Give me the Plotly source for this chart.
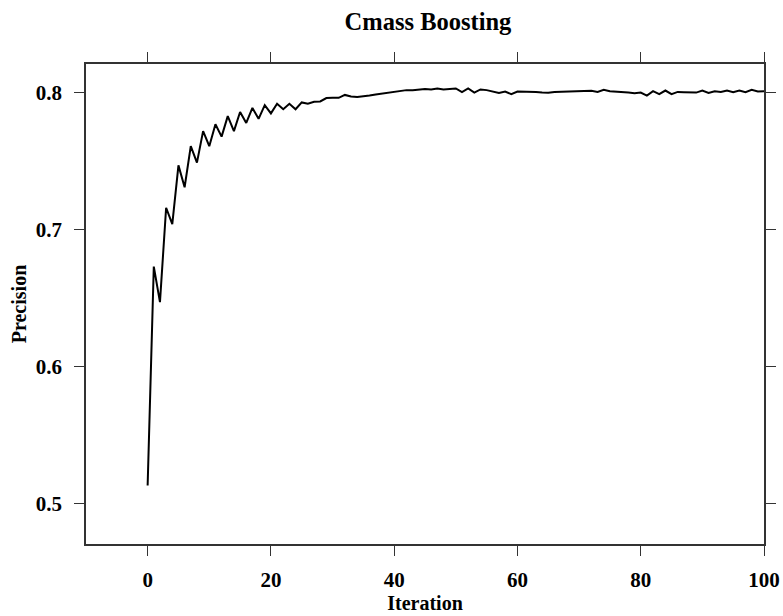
import plotly.graph_objects as go

iterations = list(range(0, 101))
precision = [
    0.513, 0.673, 0.647, 0.716, 0.704, 0.747, 0.731, 0.761, 0.749, 0.772,
    0.761, 0.777, 0.768, 0.783, 0.772, 0.786, 0.778, 0.789, 0.781, 0.791,
    0.785, 0.792, 0.788, 0.792, 0.788, 0.793, 0.792, 0.7935, 0.7937, 0.7962,
    0.7964, 0.7964, 0.7985, 0.7973, 0.7969, 0.7973, 0.798, 0.7988, 0.7995, 0.8002,
    0.8007, 0.8012, 0.802, 0.802, 0.8022, 0.8029, 0.8025, 0.8032, 0.8025, 0.8029,
    0.8032, 0.8005, 0.8032, 0.8002, 0.8025, 0.802, 0.8012, 0.8, 0.801, 0.799,
    0.801, 0.801, 0.801, 0.8007, 0.8002, 0.8, 0.8007, 0.8008, 0.8007, 0.801,
    0.801, 0.8012, 0.8015, 0.8007, 0.8022, 0.8012, 0.801, 0.8005, 0.8002, 0.7998,
    0.8002, 0.798, 0.8012, 0.799, 0.8017, 0.799, 0.8007, 0.8005, 0.8005, 0.8002,
    0.8017, 0.8, 0.8012, 0.8007, 0.8017, 0.8005, 0.8017, 0.8005, 0.8022, 0.801,
    0.8012,
]
x_ticks = [0, 20, 40, 60, 80, 100]
y_ticks = [0.5, 0.6, 0.7, 0.8]

FONT = "Liberation Serif"

fig = go.Figure()
fig.add_trace(go.Scatter(
    x=iterations, y=precision, mode="lines",
    line=dict(color="black", width=2),
    showlegend=False, hoverinfo="skip",
))

axis_common = dict(
    showgrid=False, zeroline=False,
    showline=True, linecolor="#333333", linewidth=1.5, mirror="ticks",
    ticks="outside", ticklen=10, tickwidth=1, tickcolor="#333333",
    tickfont=dict(family=FONT, size=21, color="black", weight="bold"),
)

fig.update_layout(
    width=783, height=616,
    margin=dict(l=86, r=19, t=64, b=72, autoexpand=False),
    paper_bgcolor="white", plot_bgcolor="white",
    title=dict(
        text="<b>Cmass Boosting</b>",
        font=dict(family=FONT, size=24.5, color="black"),
        x=(86 + 770) / 2 / 783, xanchor="center",
        y=1 - 21 / 616, yanchor="middle", yref="container",
    ),
    xaxis=dict(
        range=[-10, 100], tickvals=x_ticks,
        ticklabelstandoff=6,
        title=dict(text="<b>Iteration</b>", font=dict(family=FONT, size=20, color="black"), standoff=1),
        **axis_common,
    ),
    yaxis=dict(
        range=[0.4702, 0.8211], tickvals=y_ticks, tickformat=".1f",
        ticklabelstandoff=8,
        title=dict(text="<b>Precision</b>", font=dict(family=FONT, size=20, color="black"), standoff=4),
        **axis_common,
    ),
)

fig.write_html("out.html", config={"displayModeBar": False},
               post_script="document.body.style.margin='0';")
